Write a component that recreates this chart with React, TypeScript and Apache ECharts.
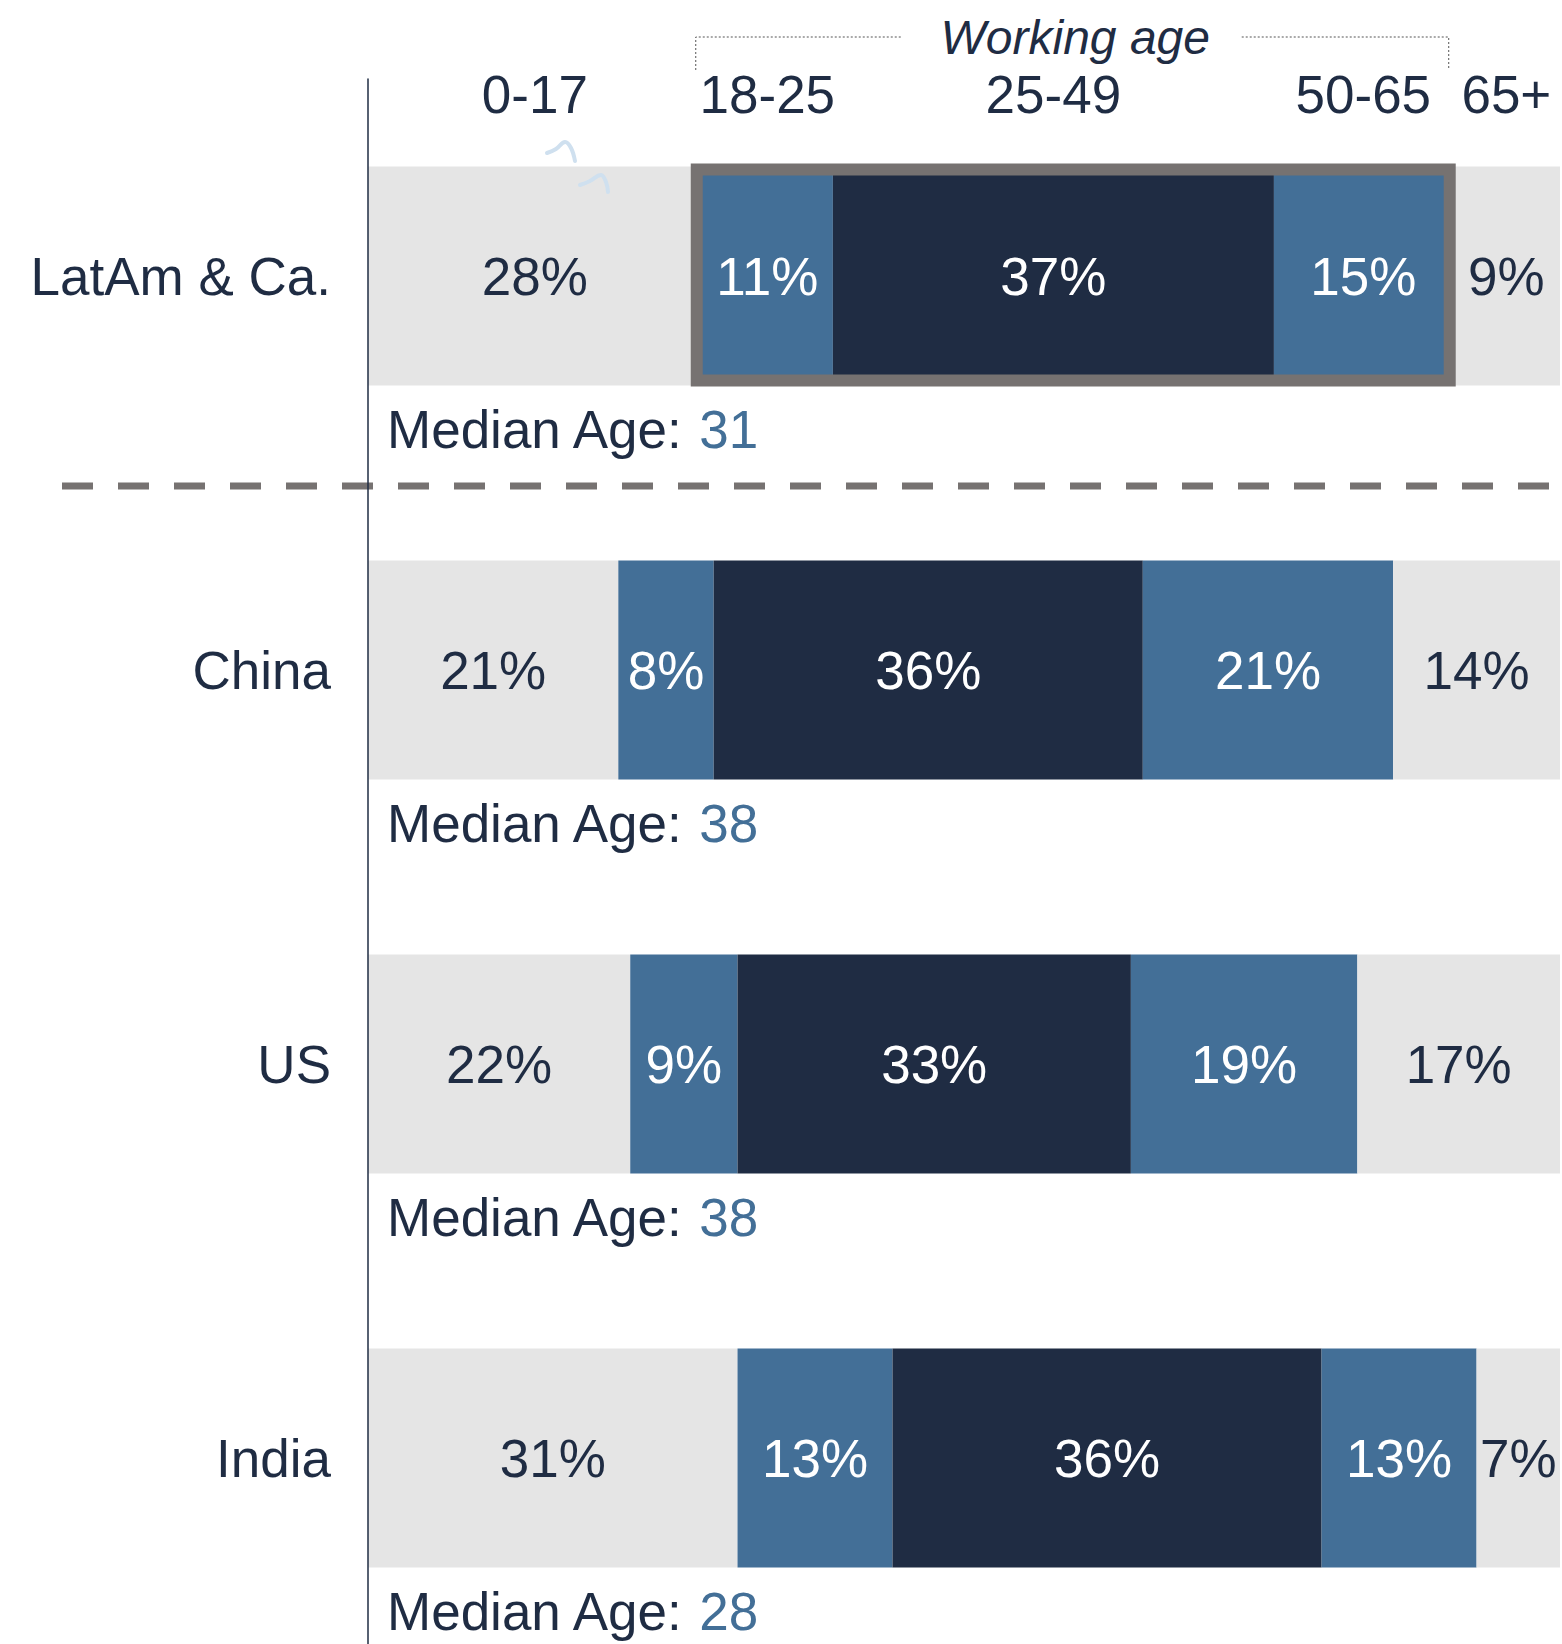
import React, { useEffect, useRef } from "react";
import * as echarts from "echarts";

const regions = ["LatAm & Ca.", "China", "US", "India"];
const ageGroups = ["0-17", "18-25", "25-49", "50-65", "65+"];
const share0to17 = [28, 21, 22, 31];
const share18to25 = [11, 8, 9, 13];
const share25to49 = [37, 36, 33, 36];
const share50to65 = [15, 21, 19, 13];
const share65plus = [9, 14, 17, 7];
const medianAges = [31, 38, 38, 28];
const workingAgeLabel = "Working age";
const medianPrefix = "Median Age: ";

const GRAY = "#E5E5E5";
const BLUE = "#436F97";
const NAVY = "#1F2C43";
const FRAME = "#767271";
const FONT = "'Liberation Sans', Arial, Helvetica, sans-serif";

export default function App() {
  const ref = useRef<HTMLDivElement>(null);

  useEffect(() => {
    document.body.style.margin = "0";
    if (!ref.current) return;
    const chart = echarts.init(ref.current, undefined, { renderer: "svg" });

    const seriesData = [share0to17, share18to25, share25to49, share50to65, share65plus];
    const colors = [GRAY, BLUE, NAVY, BLUE, GRAY];
    const labelColors = [NAVY, "#FFFFFF", "#FFFFFF", "#FFFFFF", NAVY];
    const barW = 219;

    chart.setOption({
      animation: false,
      grid: { left: 368, right: 2, top: 79, height: 1576, outerBoundsMode: "none", containLabel: false },
      xAxis: { type: "value", min: 0, max: 100, show: false },
      yAxis: {
        type: "category",
        inverse: true,
        data: regions,
        axisLine: { show: true, lineStyle: { color: NAVY, width: 1.5 } },
        axisTick: { show: false },
        splitLine: { show: false },
        axisLabel: { fontSize: 53, color: NAVY, margin: 37, fontFamily: FONT },
        z: 10,
      },
      series: seriesData.map((d, i) => ({
        type: "bar",
        name: ageGroups[i],
        stack: "total",
        data: d,
        barWidth: barW,
        itemStyle: { color: colors[i] },
        label: {
          show: true,
          position: "inside",
          formatter: "{c}%",
          fontSize: 53,
          fontFamily: FONT,
          color: labelColors[i],
        },
        emphasis: { disabled: true },
      })),
    });

    const px = (v: number, idx: number) =>
      chart.convertToPixel({ gridIndex: 0 }, [v, idx]) as number[];

    const graphics: any[] = [];

    // header labels centered over the LatAm & Ca. segments
    let cum = 0;
    const headerY = 94;
    ageGroups.forEach((g, i) => {
      const v = seriesData[i][0];
      const c = px(cum + v / 2, 0);
      cum += v;
      graphics.push({
        type: "text",
        x: c[0],
        y: headerY,
        style: {
          text: g,
          fill: NAVY,
          font: `53px ${FONT}`,
          textAlign: "center",
          textVerticalAlign: "middle",
        },
      });
    });

    // faint squiggles near the 0-17 header
    graphics.push({
      type: "polyline",
      shape: { points: [[547, 153], [556, 149], [565, 142], [571, 148], [575, 161]], smooth: 0.4 },
      style: { stroke: "#CFE0EF", lineWidth: 4, fill: "none", lineCap: "round" },
    });
    graphics.push({
      type: "polyline",
      shape: { points: [[580, 185], [590, 181], [601, 175], [606, 182], [608, 192]], smooth: 0.4 },
      style: { stroke: "#CFE0EF", lineWidth: 4, fill: "none", lineCap: "round" },
      z: 30,
    });

    // frame around working-age segments of LatAm
    const startW = share0to17[0];
    const endW = share0to17[0] + share18to25[0] + share25to49[0] + share50to65[0];
    const pStart = px(startW, 0);
    const pEnd = px(endW, 0);
    const cy0 = pStart[1];
    const top0 = cy0 - barW / 2;
    const bot0 = cy0 + barW / 2;
    const fx1 = pStart[0] - 5;
    const fx2 = pEnd[0] - 3;
    graphics.push({
      type: "rect",
      shape: { x: fx1, y: top0 + 3, width: fx2 - fx1, height: bot0 - 5 - (top0 + 3) },
      style: { fill: "none", stroke: FRAME, lineWidth: 12 },
      z: 20,
    });

    // working age bracket
    const bracketY = 37;
    const textCx = (fx1 + fx2) / 2 + 2;
    graphics.push({
      type: "polyline",
      shape: { points: [[fx1 - 1, 70], [fx1 - 1, bracketY], [fx1 + 206, bracketY]] },
      style: { stroke: "#555", lineWidth: 1, lineDash: [2, 2], fill: "none" },
    });
    graphics.push({
      type: "polyline",
      shape: { points: [[fx2 - 208, bracketY], [fx2 - 1, bracketY], [fx2 - 1, 70]] },
      style: { stroke: "#555", lineWidth: 1, lineDash: [2, 2], fill: "none" },
    });
    graphics.push({
      type: "text",
      x: textCx,
      y: bracketY,
      style: {
        text: workingAgeLabel,
        fill: NAVY,
        font: `italic 48px ${FONT}`,
        textAlign: "center",
        textVerticalAlign: "middle",
      },
    });

    // dashed separator
    const sepY = cy0 + 210;
    graphics.push({
      type: "line",
      shape: { x1: 62, y1: sepY, x2: 1560, y2: sepY },
      style: { stroke: FRAME, lineWidth: 7, lineDash: [31, 25] },
      z: 5,
    });

    // median age labels
    regions.forEach((r, i) => {
      const p = px(0, i);
      graphics.push({
        type: "text",
        x: p[0] + 19,
        y: p[1] + 153,
        style: {
          text: `{a|${medianPrefix}}{b|${medianAges[i]}}`,
          textVerticalAlign: "middle",
          rich: {
            a: { fill: NAVY, fontSize: 53, fontFamily: FONT },
            b: { fill: BLUE, fontSize: 53, fontFamily: FONT },
          },
        },
      });
    });

    chart.setOption({ graphic: graphics });

    return () => chart.dispose();
  }, []);

  return <div ref={ref} style={{ width: 1562, height: 1644 }} />;
}
